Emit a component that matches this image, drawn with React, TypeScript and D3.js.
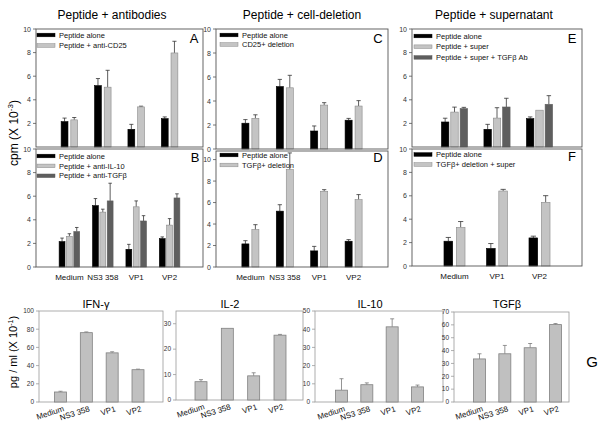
import React from "react";
import * as d3 from "d3";

// ---------- DATA ----------
const CATS4 = ["Medium", "NS3 358", "VP1", "VP2"];
const CATS3 = ["Medium", "VP1", "VP2"];
const TOP_TICKS = [0, 2, 4, 6, 8, 10];

const alone4 = [2.15, 5.2, 1.5, 2.4];
const alone4Err = [0.3, 0.6, 0.42, 0.15];
const alone3 = [2.12, 1.5, 2.4];
const alone3Err = [0.32, 0.42, 0.15];

const antiCD25 = [2.3, 5.07, 3.4, 7.97];
const antiCD25Err = [0.2, 1.43, 0.06, 0.99];
const antiIL10 = [2.6, 4.65, 5.1, 3.55];
const antiIL10Err = [0.22, 0.25, 0.5, 0.55];
const antiTGFb = [3.0, 5.6, 3.9, 5.85];
const antiTGFbErr = [0.35, 1.5, 0.45, 0.35];
const cd25Del = [2.55, 5.1, 3.66, 3.58];
const cd25DelErr = [0.3, 1.04, 0.2, 0.45];
const tgfbDel = [3.48, 9.07, 7.05, 6.27];
const tgfbDelErr = [0.46, 1.55, 0.15, 0.47];
const superOnly = [2.96, 2.45, 3.12];
const superOnlyErr = [0.42, 0.88, 0];
const superTGFbAb = [3.25, 3.39, 3.62];
const superTGFbAbErr = [0.11, 0.74, 0.73];
const tgfbDelSuper = [3.3, 6.41, 5.44];
const tgfbDelSuperErr = [0.5, 0.14, 0.57];

const IFN = [11, 76.2, 54, 35.5];
const IFNErr = [0.8, 0.8, 1.2, 0.6];
const IL2 = [7.2, 28.2, 9.5, 25.5];
const IL2Err = [0.8, 0, 1.2, 0.3];
const IL10 = [6.5, 9.5, 41.3, 8.3];
const IL10Err = [6.3, 1.0, 4.4, 1.0];
const TGFB = [33.5, 37.5, 42.2, 60.2];
const TGFBErr = [4.0, 6.5, 3.3, 0.8];

// ---------- STYLE ----------
const FONT = "'Liberation Sans', Arial, Helvetica, sans-serif";
const BLACK = "#000000";
const LIGHT = "#c4c4c4";
const DARK = "#5e5e5e";

type Series = { values: number[]; errs: number[]; fill: string; label: string };

type TopProps = {
  x0: number; x1: number; y0: number; y1: number; yMax: number;
  cats: string[]; series: Series[]; ticks: number[];
  letter: string; letterX: number; letterY: number;
  legendX: number; legendY: number; legendStep: number;
  xLabels: boolean;
};

function TopPanel(p: TopProps) {
  const x = d3.scaleLinear().domain([0, p.cats.length + 1]).range([p.x0, p.x1]);
  const y = d3.scaleLinear().domain([0, p.yMax]).range([p.y1, p.y0]);
  const step = x(1) - x(0);
  const n = p.series.length;
  const offs = n === 2 ? [-0.145, 0.145] : [-0.22, 0, 0.22];
  const bw = (n === 2 ? 0.205 : 0.175) * step;
  return (
    <g>
      {p.series.map((s, si) => (
        <g key={si}>
          {s.values.map((v, i) => {
            const cx = x(i + 1) + offs[si] * step;
            return (
              <g key={i}>
                {s.errs[i] > 0 && (
                  <g stroke="#333" strokeWidth={0.8}>
                    <line x1={cx} x2={cx} y1={y(v)} y2={y(v + s.errs[i])} />
                    <line x1={cx - bw * 0.3} x2={cx + bw * 0.3} y1={y(v + s.errs[i])} y2={y(v + s.errs[i])} />
                  </g>
                )}
                <rect x={cx - bw / 2} y={y(v)} width={bw} height={y(0) - y(v)} fill={s.fill}
                  stroke={s.fill === LIGHT ? "#8a8a8a" : s.fill} strokeWidth={0.6} />
              </g>
            );
          })}
        </g>
      ))}
      <rect x={p.x0} y={p.y0} width={p.x1 - p.x0} height={p.y1 - p.y0} fill="none" stroke="#555" strokeWidth={0.9} />
      {p.ticks.map((t) => (
        <g key={t}>
          <line x1={p.x0 - 3} x2={p.x0} y1={y(t)} y2={y(t)} stroke="#555" strokeWidth={0.8} />
          <text x={p.x0 - 5} y={y(t) + 2.5} fontSize={7} textAnchor="end" fill="#333" fontFamily={FONT}>{t}</text>
        </g>
      ))}
      {p.series.map((s, si) => {
        const ry = p.legendY + si * p.legendStep;
        return (
          <g key={"lg" + si}>
            <rect x={p.legendX} y={ry - 1.8} width={18} height={3.6} fill={s.fill}
              stroke={s.fill === LIGHT ? "#8a8a8a" : s.fill} strokeWidth={0.5} />
            <text x={p.legendX + 22} y={ry + 2.6} fontSize={7.5} fill="#111" fontFamily={FONT}>{s.label}</text>
          </g>
        );
      })}
      <text x={p.letterX} y={p.letterY} fontSize={13} textAnchor="middle" fontFamily={FONT}>{p.letter}</text>
      {p.xLabels && p.cats.map((c, i) => (
        <text key={c} x={x(i + 1)} y={p.y1 + 13} fontSize={8} textAnchor="middle" fill="#111" fontFamily={FONT}>{c}</text>
      ))}
    </g>
  );
}

type BotProps = {
  x0: number; x1: number; y0: number; y1: number; yMax: number; ticks: number[];
  c0: number; c1: number; values: number[]; errs: number[]; title: string; titleX: number;
};

function BottomPanel(p: BotProps) {
  const x = d3.scaleLinear().domain([0, CATS4.length - 1]).range([p.c0, p.c1]);
  const y = d3.scaleLinear().domain([0, p.yMax]).range([p.y1, p.y0]);
  const bw = 12;
  return (
    <g>
      <rect x={p.x0} y={p.y0} width={p.x1 - p.x0} height={p.y1 - p.y0} fill="none" stroke="#9a9a9a" strokeWidth={0.8} />
      {p.values.map((v, i) => {
        const cx = x(i);
        return (
          <g key={i}>
            {p.errs[i] > 0 && (
              <g stroke="#7a7a7a" strokeWidth={0.8}>
                <line x1={cx} x2={cx} y1={y(v)} y2={y(v + p.errs[i])} />
                <line x1={cx - 2} x2={cx + 2} y1={y(v + p.errs[i])} y2={y(v + p.errs[i])} />
              </g>
            )}
            <rect x={cx - bw / 2} y={y(v)} width={bw} height={y(0) - y(v)} fill="#c0c0c0" stroke="#808080" strokeWidth={0.8} />
          </g>
        );
      })}
      {p.ticks.map((t) => (
        <g key={t}>
          <line x1={p.x0 - 3} x2={p.x0} y1={y(t)} y2={y(t)} stroke="#9a9a9a" strokeWidth={0.8} />
          <text x={p.x0 - 5} y={y(t) + 2.3} fontSize={6.5} textAnchor="end" fill="#333" fontFamily={FONT}>{t}</text>
        </g>
      ))}
      {CATS4.map((c, i) => (
        <text key={c} transform={`translate(${x(i) + 4},${p.y1 + 9}) rotate(-18)`} fontSize={8} textAnchor="end"
          fill="#111" fontFamily={FONT}>{c}</text>
      ))}
      <text x={p.titleX} y={308} fontSize={11} textAnchor="middle" fontFamily={FONT}>{p.title}</text>
    </g>
  );
}

export default function App() {
  const sAlone4: Series = { values: alone4, errs: alone4Err, fill: BLACK, label: "Peptide alone" };
  const sAlone3: Series = { values: alone3, errs: alone3Err, fill: BLACK, label: "Peptide alone" };
  return (
    <svg width={600} height={429} style={{ position: "absolute", left: 0, top: 0, background: "#fff" }}>
      <rect width={600} height={429} fill="#fff" />
      {/* titles */}
      <text x={112} y={19} fontSize={12} textAnchor="middle" fontFamily={FONT}>Peptide + antibodies</text>
      <text x={302} y={19} fontSize={12} textAnchor="middle" fontFamily={FONT}>Peptide + cell-deletion</text>
      <text x={494} y={19} fontSize={12} textAnchor="middle" fontFamily={FONT}>Peptide + supernatant</text>
      <text transform="translate(17.5,133) rotate(-90)" fontSize={12} textAnchor="middle" fontFamily={FONT}>
        cpm (X 10<tspan fontSize={8} dy={-5}>-3</tspan><tspan dy={5}>)</tspan>
      </text>

      <TopPanel x0={36} x1={203} y0={29} y1={147} yMax={10} cats={CATS4} ticks={[2, 4, 6, 8, 10]}
        series={[sAlone4, { values: antiCD25, errs: antiCD25Err, fill: LIGHT, label: "Peptide + anti-CD25" }]}
        letter="A" letterX={194} letterY={43} legendX={37} legendY={35} legendStep={10.5} xLabels={false} />
      <TopPanel x0={36} x1={203} y0={149} y1={267} yMax={10} cats={CATS4} ticks={TOP_TICKS}
        series={[sAlone4,
          { values: antiIL10, errs: antiIL10Err, fill: LIGHT, label: "Peptide + anti-IL-10" },
          { values: antiTGFb, errs: antiTGFbErr, fill: DARK, label: "Peptide + anti-TGFβ" }]}
        letter="B" letterX={195} letterY={162} legendX={37} legendY={156} legendStep={9.9} xLabels={true} />

      <TopPanel x0={216} x1={388} y0={29} y1={149} yMax={10} cats={CATS4} ticks={TOP_TICKS}
        series={[sAlone4, { values: cd25Del, errs: cd25DelErr, fill: LIGHT, label: "CD25+ deletion" }]}
        letter="C" letterX={378} letterY={43} legendX={220} legendY={35} legendStep={9.5} xLabels={false} />
      <TopPanel x0={216} x1={388} y0={151} y1={267} yMax={10.8} cats={CATS4} ticks={TOP_TICKS}
        series={[sAlone4, { values: tgfbDel, errs: tgfbDelErr, fill: LIGHT, label: "TGFβ+ deletion" }]}
        letter="D" letterX={378} letterY={162} legendX={220} legendY={155} legendStep={10} xLabels={true} />

      <TopPanel x0={412} x1={582} y0={29} y1={147} yMax={10} cats={CATS3} ticks={[2, 4, 6, 8, 10]}
        series={[sAlone3,
          { values: superOnly, errs: superOnlyErr, fill: LIGHT, label: "Peptide + super" },
          { values: superTGFbAb, errs: superTGFbAbErr, fill: DARK, label: "Peptide + super + TGFβ Ab" }]}
        letter="E" letterX={572} letterY={43} legendX={414} legendY={36} legendStep={10.7} xLabels={false} />
      <TopPanel x0={412} x1={582} y0={149} y1={266} yMax={10} cats={CATS3} ticks={TOP_TICKS}
        series={[sAlone3, { values: tgfbDelSuper, errs: tgfbDelSuperErr, fill: LIGHT, label: "TGFβ+ deletion + super" }]}
        letter="F" letterX={572} letterY={161} legendX={414} legendY={154.5} legendStep={10} xLabels={true} />

      {/* bottom */}
      <text transform="translate(17,352) rotate(-90)" fontSize={11} textAnchor="middle" fontFamily={FONT}>
        pg / ml (X 10<tspan fontSize={7} dy={-4.5}>-1</tspan><tspan dy={4.5}>)</tspan>
      </text>
      <BottomPanel x0={39} x1={163} y0={311} y1={402} yMax={100} ticks={[0, 20, 40, 60, 80, 100]}
        c0={60.5} c1={138} values={IFN} errs={IFNErr} title="IFN-γ" titleX={96} />
      <BottomPanel x0={176} x1={303} y0={311} y1={400} yMax={35} ticks={[0, 10, 20, 30]}
        c0={201} c1={280} values={IL2} errs={IL2Err} title="IL-2" titleX={230} />
      <BottomPanel x0={315} x1={443} y0={311} y1={402} yMax={50} ticks={[0, 10, 20, 30, 40, 50]}
        c0={341.5} c1={417.5} values={IL10} errs={IL10Err} title="IL-10" titleX={370} />
      <BottomPanel x0={454} x1={569} y0={312} y1={402} yMax={70} ticks={[0, 10, 20, 30, 40, 50, 60, 70]}
        c0={479.5} c1={555.5} values={TGFB} errs={TGFBErr} title="TGFβ" titleX={507} />
      <text x={592} y={367} fontSize={15} textAnchor="middle" fontFamily={FONT}>G</text>
    </svg>
  );
}
